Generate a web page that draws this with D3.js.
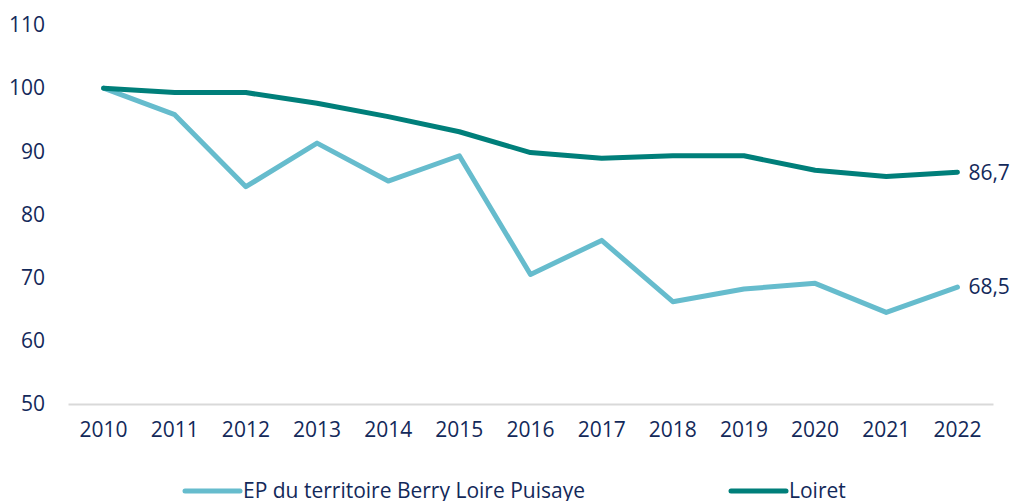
<!DOCTYPE html>
<html>
<head>
<meta charset="utf-8">
<script src="https://cdn.jsdelivr.net/npm/d3@7"></script>
<style>
  html, body { margin: 0; padding: 0; background: #fff; }
  svg { display: block; }
  text { font-family: "Open Sans", sans-serif; fill: #13295a; }
</style>
</head>
<body>
<svg id="chart" width="1014" height="501"></svg>
<script>
// Index base 100 en 2010
const years = ["2010","2011","2012","2013","2014","2015","2016","2017","2018","2019","2020","2021","2022"];
const epValues = [100, 95.8, 84.4, 91.3, 85.3, 89.3, 70.5, 75.9, 66.2, 68.2, 69.1, 64.5, 68.5];
const loiretValues = [100, 99.3, 99.3, 97.6, 95.5, 93.1, 89.8, 88.9, 89.3, 89.3, 87.0, 86.0, 86.7];
const yTicks = [50, 60, 70, 80, 90, 100, 110];
const seriesNames = ["EP du territoire Berry Loire Puisaye", "Loiret"];
const seriesColors = ["#66bccd", "#007f7a"];

const svg = d3.select("#chart");
const plot = { left: 68, right: 993, top: 25, bottom: 404 };

const x = d3.scaleBand().domain(years).range([plot.left, plot.right]);
const y = d3.scaleLinear().domain([50, 110]).range([plot.bottom, plot.top]);
const cx = d => x(d) + x.bandwidth() / 2;

// Y axis labels (no axis line, no gridlines)
const yAxis = d3.axisLeft(y).tickValues(yTicks).tickSize(0).tickPadding(0);
const gy = svg.append("g").attr("transform", "translate(45,0)").call(yAxis);
gy.select(".domain").remove();
gy.selectAll("text").attr("font-size", 21).attr("font-family", "Open Sans, sans-serif").attr("fill", "#13295a");

// X axis baseline and year labels
const xAxis = d3.axisBottom(x).tickSize(0).tickPadding(18);
const gx = svg.append("g").attr("transform", `translate(0,${plot.bottom})`).call(xAxis);
gx.select(".domain").attr("stroke", "#d9d9d9").attr("stroke-width", 2);
gx.selectAll("text").attr("font-size", 21).attr("font-family", "Open Sans, sans-serif").attr("fill", "#13295a");

const line = d3.line().x((d, i) => cx(years[i])).y(d => y(d));

const series = [epValues, loiretValues];
series.forEach((vals, k) => {
  svg.append("path")
    .datum(vals)
    .attr("d", line)
    .attr("fill", "none")
    .attr("stroke", seriesColors[k])
    .attr("stroke-width", 5)
    .attr("stroke-linejoin", "round")
    .attr("stroke-linecap", "round");
});

// End-of-line value labels
const fmt = v => v.toFixed(1).replace(".", ",");
series.forEach(vals => {
  const last = vals[vals.length - 1];
  svg.append("text")
    .attr("x", cx(years[years.length - 1]) + 11)
    .attr("y", y(last))
    .attr("dy", "0.35em")
    .attr("font-size", 21)
    .text(fmt(last));
});

// Legend
const legendItems = [
  { x0: 185, x1: 240 },
  { x0: 731, x1: 786 }
];
legendItems.forEach((it, k) => {
  svg.append("line")
    .attr("x1", it.x0).attr("x2", it.x1)
    .attr("y1", 491).attr("y2", 491)
    .attr("stroke", seriesColors[k])
    .attr("stroke-width", 5)
    .attr("stroke-linecap", "round");
  svg.append("text")
    .attr("x", it.x1 + 3)
    .attr("y", 491)
    .attr("dy", "0.35em")
    .attr("font-size", 21)
    .text(seriesNames[k]);
});
</script>
</body>
</html>
